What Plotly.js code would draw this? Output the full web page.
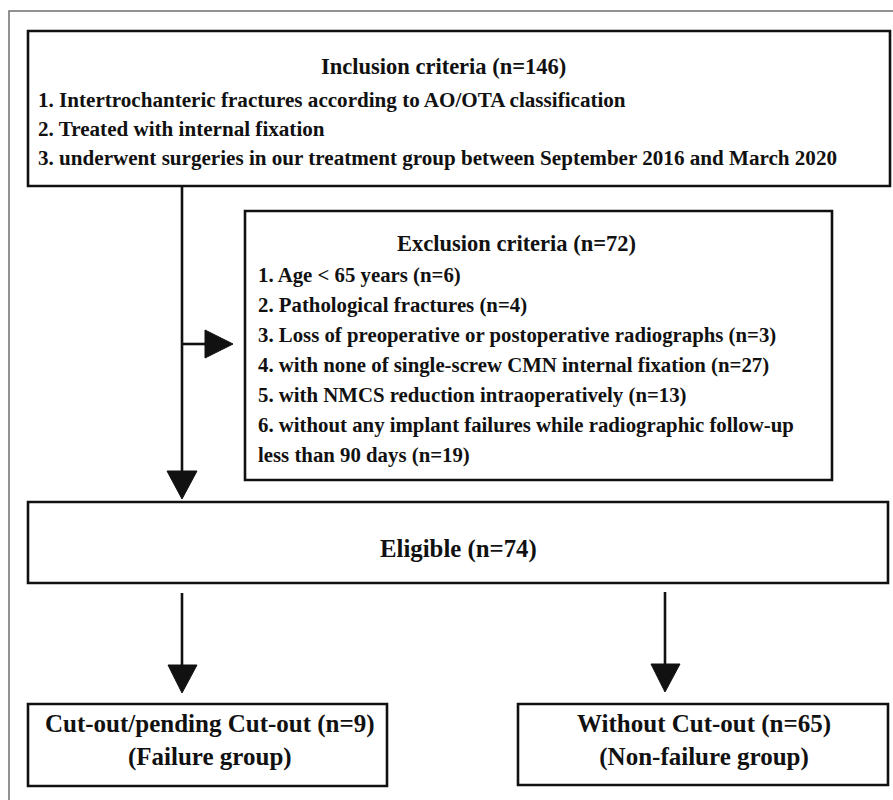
<!DOCTYPE html>
<html>
<head>
<meta charset="utf-8">
<script src="https://cdn.plot.ly/plotly-3.0.1.min.js"></script>
<style>html,body{margin:0;padding:0;background:#fff;}#chart{width:893px;height:800px;}</style>
</head>
<body>
<div id="chart"></div>
<script>
// ---- Text content (data) ----
const inclusionTitle = "Inclusion criteria (n=146)";
const inclusionItems = [
  "1. Intertrochanteric fractures according to AO/OTA classification",
  "2. Treated with internal fixation",
  "3. underwent surgeries in our treatment group between September 2016 and March 2020"
];
const exclusionTitle = "Exclusion criteria (n=72)";
const exclusionItems = [
  "1. Age &lt; 65 years (n=6)",
  "2. Pathological fractures (n=4)",
  "3. Loss of preoperative or postoperative radiographs (n=3)",
  "4. with none of single-screw CMN internal fixation (n=27)",
  "5. with NMCS reduction intraoperatively (n=13)",
  "6. without any implant failures while radiographic follow-up",
  "less than 90 days (n=19)"
];
const eligibleLabel = ["Eligible (n=74)"];
const failureLabel = ["Cut-out/pending Cut-out (n=9)", "(Failure group)"];
const nonFailureLabel = ["Without Cut-out (n=65)", "(Non-failure group)"];

// ---- Layout geometry (pixel space, y downward) ----
const W = 893, H = 800;
const boxes = {
  incl: [28, 31, 890, 186],
  excl: [245, 211, 832, 480],
  elig: [28, 502, 888, 583],
  fail: [28, 704, 387, 786],
  nonf: [518, 704, 888, 785]
};
const BLACK = "#111";
const shapes = [];
// outer frame
shapes.push({type:"rect", xref:"x", yref:"y", x0:9, y0:11, x1:W+20, y1:H+20,
  line:{color:"#6e6e6e", width:1.5}, fillcolor:"rgba(0,0,0,0)"});
for (const k in boxes) {
  const b = boxes[k];
  shapes.push({type:"rect", xref:"x", yref:"y", x0:b[0], y0:b[1], x1:b[2], y1:b[3],
    line:{color:BLACK, width:2.6}, fillcolor:"rgba(0,0,0,0)"});
}
function line(x0,y0,x1,y1){
  shapes.push({type:"line", xref:"x", yref:"y", x0, y0, x1, y1, line:{color:BLACK, width:2.6}});
}
function tri(pts){
  const p = "M" + pts.map(q=>q[0]+","+q[1]).join(" L") + " Z";
  shapes.push({type:"path", xref:"x", yref:"y", path:p, fillcolor:BLACK, line:{color:BLACK, width:1}});
}
// main trunk
line(182, 186, 182, 472);
tri([[167,471],[197,471],[182,499]]);
// branch to exclusion
line(182, 344, 206, 344);
tri([[205,330],[205,358],[233,344]]);
// eligible -> groups
line(182, 593, 182, 666);
tri([[168,665],[197,665],[182,693]]);
line(665, 592, 665, 665);
tri([[651,664],[680,664],[665,692]]);

// ---- Text annotations ----
const FONT = "Liberation Serif, Times New Roman, serif";
const ann = [];
function txt(s, x, y, size, anchor){
  ann.push({text:s, x, y, xref:"x", yref:"y", showarrow:false,
    xanchor:anchor||"center", yanchor:"middle",
    font:{family:FONT, size:size, color:BLACK, weight:700}});
}
txt(inclusionTitle, 443, 66, 22.5);
const inclY = [100, 129, 158];
inclusionItems.forEach((s,i)=>txt(s, 36, inclY[i], 21.1, "left"));
txt(exclusionTitle, 516, 243, 22.5);
const exclY = [275, 305, 335, 365, 395, 425, 455];
exclusionItems.forEach((s,i)=>txt(s, 256, exclY[i], 20.8, "left"));
txt(eligibleLabel[0], 458, 549, 24.8);
txt(failureLabel.join("<br>"), 210, 740, 25);
txt(nonFailureLabel.join("<br>"), 704, 740, 25);

const layout = {
  width: W, height: H,
  margin:{l:0, r:0, t:0, b:0},
  paper_bgcolor:"#fff", plot_bgcolor:"#fff",
  xaxis:{range:[0,W], visible:false, fixedrange:true},
  yaxis:{range:[H,0], visible:false, fixedrange:true},
  shapes, annotations: ann, showlegend:false
};
Plotly.newPlot("chart", [], layout, {displayModeBar:false, staticPlot:true});
</script>
</body>
</html>
